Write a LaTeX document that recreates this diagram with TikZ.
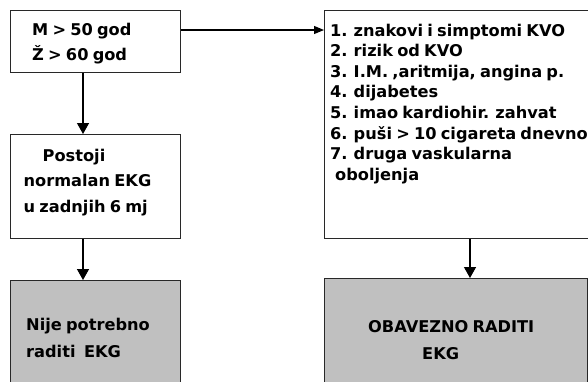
\documentclass[tikz,border=0pt]{standalone}
\usepackage{fontspec}
\usetikzlibrary{arrows.meta}
\newfontfamily\rf[WordSpace=0.75]{DejaVu Sans}
\definecolor{boxgrey}{RGB}{192,192,192}
\definecolor{edge}{RGB}{40,40,40}
\begin{document}
\begin{tikzpicture}[x=1pt,y=-1pt,
  box/.style={draw=edge, line width=1.3pt, rectangle, inner sep=0pt, anchor=north west},
  greybox/.style={box, fill=boxgrey},
  txt/.style={font=\rf\bfseries\fontsize{16.2}{19}\selectfont, inner sep=0pt, anchor=base west},
  arr/.style={line width=1.3pt, -{Triangle[width=12pt,length=11pt]}},
  arrsmall/.style={line width=1.1pt, -{Triangle[width=8pt,length=10pt]}}]
\clip (0,0) rectangle (588,381);
% boxes
\node[box, minimum width=170pt, minimum height=62pt] (b1) at (10,10) {};
\node[box, minimum width=300pt, minimum height=228pt] (list) at (324,10) {};
\node[box, minimum width=170pt, minimum height=104pt] (b2) at (10,134) {};
\node[greybox, minimum width=170pt, minimum height=130pt] (b3) at (10,280) {};
\node[greybox, minimum width=263pt, minimum height=130pt] (b4) at (324,278) {};
% connectors
\coordinate (ya) at (0,30);
\coordinate (xa) at (83,0);
\coordinate (xb) at (470,0);
\draw[arrsmall] (b1.east |- ya) -- (list.west |- ya);
\draw[arr] (b1.south -| xa) -- (b2.north -| xa);
\draw[arr] (b2.south -| xa) -- (b3.north -| xa);
\draw[arr] (list.south -| xb) -- (b4.north -| xb);
% texts
\node[txt] (t11) at (32,35) {M > 50 god};
\node[txt] (t12) at (32,60) {Ž > 60 god};
\node[txt] (l1) at (330,36) {1. znakovi i simptomi KVO};
\node[txt] (l2) at (330,56.6) {2. rizik od KVO};
\node[txt] (l3) at (330,77.2) {3. I.M. ,aritmija, angina p.};
\node[txt] (l4) at (330,97.8) {4. dijabetes};
\node[txt] (l5) at (330,118.4) {5. imao kardiohir. zahvat};
\node[txt] (l6) at (330,139) {6. puši > 10 cigareta dnevno};
\node[txt] (l7) at (330,159.6) {7. druga vaskularna};
\node[txt] (l8) at (335,180.2) {oboljenja};
\node[txt] (t21) at (42.5,161) {Postoji};
\node[txt] (t22) at (23.5,186.7) {normalan EKG};
\node[txt] (t23) at (23.5,212.5) {u zadnjih 6 mj};
\node[txt] (t31) at (26,330) {Nije potrebno};
\node[txt] (t32) at (26,357) {raditi\ \ EKG};
\node[txt] (t41) at (368,332) {OBAVEZNO RADITI};
\node[txt] (t42) at (422,359) {EKG};
\end{tikzpicture}
\end{document}
